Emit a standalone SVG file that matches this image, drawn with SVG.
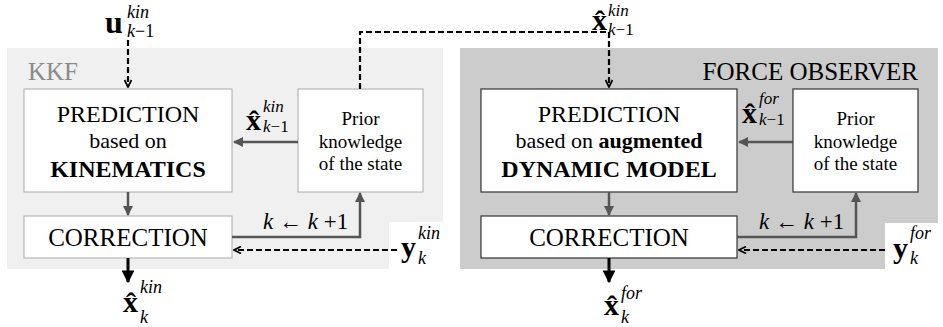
<svg xmlns="http://www.w3.org/2000/svg" width="943" height="327" viewBox="0 0 943 327">
<rect width="943" height="327" fill="#fff"/>
<defs>
<marker id="ag" viewBox="0 0 10 10" refX="9" refY="5" markerWidth="4" markerHeight="4" orient="auto" markerUnits="strokeWidth"><path d="M0,0 L10,5 L0,10 z" fill="#555"/></marker>
<marker id="ad" viewBox="0 0 10 10" refX="9" refY="5" markerWidth="4" markerHeight="4" orient="auto" markerUnits="strokeWidth"><path d="M1,1 L9,5 L1,9" fill="none" stroke="#000" stroke-width="2"/></marker>
<marker id="ab" viewBox="0 0 10 10" refX="9" refY="5" markerWidth="4.3" markerHeight="4.3" orient="auto" markerUnits="strokeWidth"><path d="M0,0 L10,5 L0,10 z" fill="#000"/></marker>
</defs>
<g id="panel-kkf">
<path d="M7,48 H443 V222 H389 V269 H7 Z" fill="#f0f0f0"/>
<text x="28" y="80" font-family="Liberation Serif" font-size="25" fill="#8a8a8a">KKF</text>
</g>
<g id="panel-force">
<path d="M460,48 H938 V223 H885 V269 H460 Z" fill="#cccccc"/>
<text x="918" y="80" font-family="Liberation Serif" font-size="25" text-anchor="end">FORCE OBSERVER</text>
</g>
<g id="kkf-prediction">
<rect x="24" y="89" width="208" height="103" fill="#fff" stroke="#aaa" stroke-width="1"/>
<text x="128" y="122" font-family="Liberation Serif" font-size="24" text-anchor="middle">PREDICTION</text>
<text x="128" y="148" font-family="Liberation Serif" font-size="22" text-anchor="middle">based on</text>
<text x="128" y="177" font-family="Liberation Serif" font-size="24" font-weight="bold" text-anchor="middle">KINEMATICS</text>
</g>
<g id="kkf-prior">
<rect x="298" y="89" width="125" height="103" fill="#fff" stroke="#aaa" stroke-width="1"/>
<text x="360.5" y="125" font-family="Liberation Serif" font-size="19" text-anchor="middle">Prior</text>
<text x="360.5" y="148" font-family="Liberation Serif" font-size="19" text-anchor="middle">knowledge</text>
<text x="360.5" y="170" font-family="Liberation Serif" font-size="19" text-anchor="middle">of the state</text>
</g>
<g id="kkf-correction">
<rect x="24" y="216" width="208" height="42" fill="#fff" stroke="#aaa" stroke-width="1"/>
<text x="128" y="246" font-family="Liberation Serif" font-size="25" text-anchor="middle">CORRECTION</text>
</g>
<g id="fo-prediction">
<rect x="481" y="89" width="256" height="103" fill="#fff" stroke="#333" stroke-width="1.2"/>
<text x="609" y="122" font-family="Liberation Serif" font-size="24" text-anchor="middle">PREDICTION</text>
<text x="609" y="148" font-family="Liberation Serif" font-size="22" text-anchor="middle">based on <tspan font-weight="bold">augmented</tspan></text>
<text x="609" y="177" font-family="Liberation Serif" font-size="24" font-weight="bold" text-anchor="middle">DYNAMIC MODEL</text>
</g>
<g id="fo-prior">
<rect x="793" y="89" width="125" height="103" fill="#fff" stroke="#333" stroke-width="1.2"/>
<text x="855.5" y="125" font-family="Liberation Serif" font-size="19" text-anchor="middle">Prior</text>
<text x="855.5" y="148" font-family="Liberation Serif" font-size="19" text-anchor="middle">knowledge</text>
<text x="855.5" y="170" font-family="Liberation Serif" font-size="19" text-anchor="middle">of the state</text>
</g>
<g id="fo-correction">
<rect x="481" y="216" width="256" height="42" fill="#fff" stroke="#333" stroke-width="1.2"/>
<text x="609" y="246" font-family="Liberation Serif" font-size="25" text-anchor="middle">CORRECTION</text>
</g>
<g id="connectors" fill="none">
<g stroke="#000" stroke-width="2.2" stroke-dasharray="6,3">
<path d="M128,40 V87" marker-end="url(#ad)"/>
<path d="M360,89 V32 H609 V87" marker-end="url(#ad)"/>
<path d="M397,250 H234" marker-end="url(#ad)"/>
<path d="M885,250 H739" marker-end="url(#ad)"/>
</g>
<g stroke="#555" stroke-width="2.5">
<path d="M298,142 H234" marker-end="url(#ag)"/>
<path d="M793,142 H739" marker-end="url(#ag)"/>
<path d="M128,192 V215" marker-end="url(#ag)"/>
<path d="M609,192 V215" marker-end="url(#ag)"/>
<path d="M232,237 H360 V193" marker-end="url(#ag)"/>
<path d="M737,237 H856 V193" marker-end="url(#ag)"/>
</g>
<g stroke="#000" stroke-width="3">
<path d="M128,258 V282" marker-end="url(#ab)"/>
<path d="M609,258 V282" marker-end="url(#ab)"/>
</g>
</g>
<g id="labels">
<text x="105" y="33" font-family="Liberation Serif" font-size="32" font-weight="bold">u</text>
<text x="127" y="18" font-family="Liberation Serif" font-size="18" font-style="italic">kin</text>
<text x="127" y="37" font-family="Liberation Serif" font-size="18"><tspan font-style="italic">k</tspan>−1</text>

<text x="592" y="30" font-family="Liberation Serif" font-size="30" font-weight="bold">x&#x302;</text>
<text x="608" y="16" font-family="Liberation Serif" font-size="17" font-style="italic">kin</text>
<text x="608" y="35" font-family="Liberation Serif" font-size="17"><tspan font-style="italic">k</tspan>−1</text>

<text x="246" y="130" font-family="Liberation Serif" font-size="30" font-weight="bold">x&#x302;</text>
<text x="263" y="112" font-family="Liberation Serif" font-size="17" font-style="italic">kin</text>
<text x="263" y="132" font-family="Liberation Serif" font-size="17"><tspan font-style="italic">k</tspan>−1</text>

<text x="742" y="123" font-family="Liberation Serif" font-size="30" font-weight="bold">x&#x302;</text>
<text x="759" y="104" font-family="Liberation Serif" font-size="17" font-style="italic">for</text>
<text x="759" y="125" font-family="Liberation Serif" font-size="17"><tspan font-style="italic">k</tspan>−1</text>

<text x="263" y="229" font-family="Liberation Serif" font-size="23"><tspan font-style="italic">k</tspan> ← <tspan font-style="italic">k</tspan> +1</text>
<text x="759" y="229" font-family="Liberation Serif" font-size="23"><tspan font-style="italic">k</tspan> ← <tspan font-style="italic">k</tspan> +1</text>

<text x="401" y="257" font-family="Liberation Serif" font-size="30" font-weight="bold">y</text>
<text x="418" y="239" font-family="Liberation Serif" font-size="18" font-style="italic">kin</text>
<text x="418" y="264" font-family="Liberation Serif" font-size="18" font-style="italic">k</text>

<text x="893" y="258" font-family="Liberation Serif" font-size="30" font-weight="bold">y</text>
<text x="910" y="239" font-family="Liberation Serif" font-size="18" font-style="italic">for</text>
<text x="910" y="264" font-family="Liberation Serif" font-size="18" font-style="italic">k</text>

<text x="123" y="312" font-family="Liberation Serif" font-size="30" font-weight="bold">x&#x302;</text>
<text x="140" y="293" font-family="Liberation Serif" font-size="18" font-style="italic">kin</text>
<text x="140" y="323" font-family="Liberation Serif" font-size="18" font-style="italic">k</text>

<text x="604" y="315" font-family="Liberation Serif" font-size="30" font-weight="bold">x&#x302;</text>
<text x="621" y="299" font-family="Liberation Serif" font-size="18" font-style="italic">for</text>
<text x="621" y="323" font-family="Liberation Serif" font-size="18" font-style="italic">k</text>
</g>
</svg>
